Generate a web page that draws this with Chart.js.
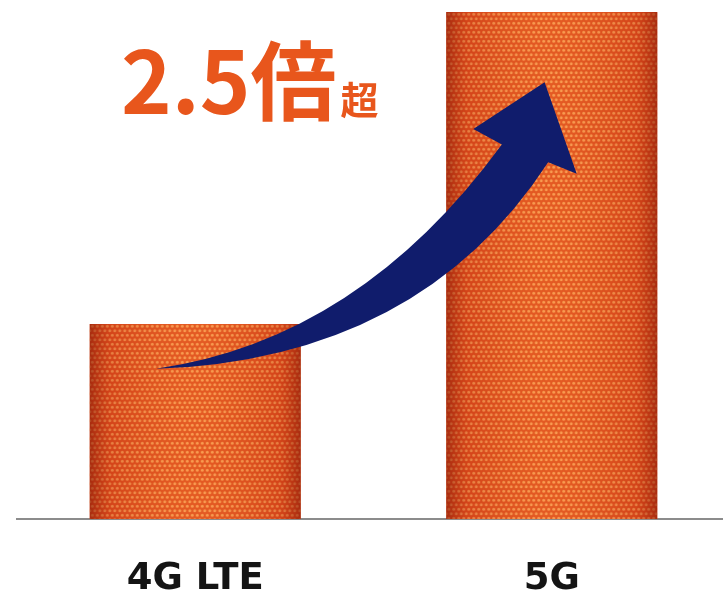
<!DOCTYPE html>
<html>
<head>
<meta charset="utf-8">
<script src="https://cdn.jsdelivr.net/npm/chart.js@4.4.0/dist/chart.umd.min.js"></script>
<style>
html, body { margin: 0; padding: 0; background: #fff; overflow: hidden; }
</style>
</head>
<body>
<canvas id="speed" width="730" height="590"></canvas>
<script>
let categories = ['4G LTE', '5G'];
let speeds = [1.0, 2.6];
let y_max = 2.6;
let headline = '2.5倍';
let headline_suffix = '超';

// arrow outline, in (category index, value) units
let arrow_tail = [-0.11, 0.77];
let arrow_upper_ctrl = [0.46, 0.92];
let arrow_left_neck = [0.86, 1.92];
let arrow_left_barb = [0.78, 2.0];
let arrow_tip = [0.98, 2.24];
let arrow_right_barb = [1.07, 1.77];
let arrow_right_neck = [0.99, 1.83];
let arrow_lower_ctrl = [0.63, 0.82];

function dot_pattern(ctx) {
    let c = document.createElement('canvas');
    c.width = 5;
    c.height = 9;
    let p = c.getContext('2d');
    p.fillStyle = 'rgba(255, 178, 100, 0.75)';
    [[2.5, 2.25], [0, 6.75], [5, 6.75]].forEach(d => {
        p.beginPath();
        p.arc(d[0], d[1], 1.5, 0, Math.PI * 2);
        p.fill();
    });
    return ctx.createPattern(c, 'repeat');
}

let bar_shading = {
    id: 'bar_shading',
    afterDatasetsDraw(chart) {
        let ctx = chart.ctx;
        let pattern = dot_pattern(ctx);
        chart.getDatasetMeta(0).data.forEach(bar => {
            let left = bar.x - bar.width / 2;
            let top = bar.y;
            let h = bar.base - bar.y;
            let g = ctx.createLinearGradient(left, 0, left + bar.width, 0);
            g.addColorStop(0, 'rgba(130, 20, 5, 0.6)');
            g.addColorStop(0.1, 'rgba(170, 35, 10, 0.22)');
            g.addColorStop(0.45, 'rgba(255, 175, 70, 0.12)');
            g.addColorStop(0.55, 'rgba(255, 175, 70, 0.12)');
            g.addColorStop(0.9, 'rgba(170, 35, 10, 0.22)');
            g.addColorStop(1, 'rgba(130, 20, 5, 0.6)');
            ctx.save();
            ctx.translate(left, top);
            ctx.fillStyle = pattern;
            ctx.fillRect(0, 0, bar.width, h);
            ctx.restore();
            ctx.save();
            ctx.fillStyle = g;
            ctx.fillRect(left, top, bar.width, h);
            ctx.restore();
        });
    }
};

let growth_arrow = {
    id: 'growth_arrow',
    afterDraw(chart) {
        let ctx = chart.ctx;
        let xs = chart.scales.x, ys = chart.scales.y;
        let px = p => [xs.getPixelForValue(p[0]), ys.getPixelForValue(p[1])];
        let t = px(arrow_tail), uc = px(arrow_upper_ctrl), ln = px(arrow_left_neck);
        let lb = px(arrow_left_barb), tip = px(arrow_tip), rb = px(arrow_right_barb);
        let rn = px(arrow_right_neck), lc = px(arrow_lower_ctrl);
        ctx.save();
        ctx.fillStyle = '#101c6c';
        ctx.beginPath();
        ctx.moveTo(t[0], t[1]);
        ctx.quadraticCurveTo(uc[0], uc[1], ln[0], ln[1]);
        ctx.lineTo(lb[0], lb[1]);
        ctx.lineTo(tip[0], tip[1]);
        ctx.lineTo(rb[0], rb[1]);
        ctx.lineTo(rn[0], rn[1]);
        ctx.quadraticCurveTo(lc[0], lc[1], t[0], t[1]);
        ctx.closePath();
        ctx.fill();

        // headline
        ctx.fillStyle = '#e8561c';
        ctx.textBaseline = 'alphabetic';
        ctx.font = 'bold 86px "Noto Sans CJK JP"';
        ctx.fillText(headline, 121, 114);
        let w = ctx.measureText(headline).width;
        ctx.font = 'bold 38px "Noto Sans CJK JP"';
        ctx.fillText(headline_suffix, 121 + w + 4, 114);
        ctx.restore();
    }
};

new Chart(document.getElementById('speed'), {
    type: 'bar',
    data: {
        labels: categories,
        datasets: [{
            data: speeds,
            backgroundColor: '#e04e1e',
            borderWidth: 0,
            barPercentage: 1,
            categoryPercentage: 0.592
        }]
    },
    options: {
        responsive: false,
        animation: false,
        layout: { padding: { left: 17, top: 12, right: 0, bottom: 0 } },
        plugins: {
            legend: { display: false },
            tooltip: { enabled: false }
        },
        scales: {
            x: {
                grid: { display: false, drawTicks: false },
                border: { display: true, color: '#8c8c8c', width: 2 },
                ticks: {
                    color: '#141414',
                    padding: 38,
                    font: { family: 'DejaVu Sans', weight: 'bold', size: 37 }
                },
                afterFit(scale) { scale.height = 71; }
            },
            y: { display: false, min: 0, max: y_max }
        }
    },
    plugins: [bar_shading, growth_arrow]
});
</script>
</body>
</html>
